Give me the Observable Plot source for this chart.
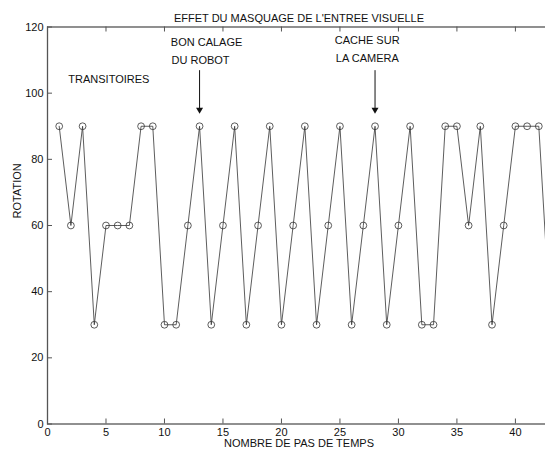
<!DOCTYPE html>
<html><head><meta charset="utf-8">
<script src="https://cdn.jsdelivr.net/npm/d3@7"></script>
<script src="https://cdn.jsdelivr.net/npm/@observablehq/plot@0.6"></script>
<style>
html,body{margin:0;padding:0;overflow:hidden;background:#fff;}
#chart svg{max-width:none !important;display:block;}
</style></head><body><div id="chart"></div>
<script>
// Data
const steps = [1,2,3,4,5,6,7,8,9,10,11,12,13,14,15,16,17,18,19,20,21,22,23,24,25,26,27,28,29,30,31,32,33,34,35,36,37,38,39,40,41,42,43];
const rotation = [90,60,90,30,60,60,60,90,90,30,30,60,90,30,60,90,30,60,90,30,60,90,30,60,90,30,60,90,30,60,90,30,30,90,90,60,90,30,60,90,90,90,30];
const xTicks = [0,5,10,15,20,25,30,35,40];
const yTicks = [0,20,40,60,80,100,120];
const title = "EFFET DU MASQUAGE DE L'ENTREE VISUELLE";
const xLabel = "NOMBRE DE PAS DE TEMPS";
const yLabel = "ROTATION";
const noteText = ["TRANSITOIRES", "BON CALAGE", "DU ROBOT", "CACHE SUR", "LA CAMERA"];
const noteX = [1.78, 10.54, 10.6, 24.56, 24.65];
const noteY = [104.1, 115.4, 110.0, 115.9, 110.5];
const arrowX = [13, 28];
const arrowTop = [106.8, 106.8];
const arrowTip = [95.0, 95.0];

const data = steps.map((s, i) => ({step: s, rot: rotation[i]}));
const notes = noteText.map((t, i) => ({t, x: noteX[i], y: noteY[i]}));
const arrows = arrowX.map((x, i) => ({x, y1: arrowTop[i], y2: arrowTip[i]}));

const W = 552, H = 453;
const mL = 47, mR = 2, mT = 26.5, mB = 29.5;
const fw = W - mL - mR, fh = H - mT - mB;
const tick = 5;

const chart = Plot.plot({
  width: W, height: H,
  marginLeft: mL, marginRight: mR, marginTop: mT, marginBottom: mB,
  style: {fontFamily: "'Liberation Sans', Arial, Helvetica, sans-serif", fontSize: "11px", color: "#111", background: "white", overflow: "visible", maxWidth: "none"},
  x: {domain: [0, 43]},
  y: {domain: [0, 120]},
  marks: [
    Plot.axisX({ticks: xTicks, tickSize: 0, tickPadding: 4, label: null, fontSize: 11}),
    Plot.axisY({ticks: yTicks, tickSize: 0, tickPadding: 4, label: null, fontSize: 11}),
    // inward ticks on all sides
    Plot.ruleX(xTicks, {x: d => d, insetTop: fh - tick, stroke: "#555"}),
    Plot.ruleX(xTicks, {x: d => d, insetBottom: fh - tick, stroke: "#555"}),
    Plot.ruleY(yTicks, {y: d => d, insetRight: fw - tick, stroke: "#555"}),
    Plot.ruleY(yTicks, {y: d => d, insetLeft: fw - tick, stroke: "#555"}),
    Plot.frame({stroke: "#555", strokeWidth: 1.3}),
    Plot.line(data, {x: "step", y: "rot", stroke: "#333", strokeWidth: 0.8}),
    Plot.dot(data, {x: "step", y: "rot", r: 3.4, stroke: "#333", strokeWidth: 0.8, fill: "none"}),
    Plot.text(notes, {x: "x", y: "y", text: "t", textAnchor: "start", fontSize: 11, fill: "#111"}),
    Plot.ruleX(arrows, {x: "x", y1: "y1", y2: "y2", stroke: "#111", strokeWidth: 1}),
    Plot.dot(arrows, {x: "x", y: "y2", symbol: "triangle", rotate: 180, r: 2.6, fill: "#111", stroke: "none"}),
    Plot.text([title], {frameAnchor: "top", dy: -13, fontSize: 11, fill: "#111"}),
    Plot.text([xLabel], {frameAnchor: "bottom", dy: 23, fontSize: 11, fill: "#111"}),
    Plot.text([yLabel], {frameAnchor: "left", dx: -30, dy: -7, rotate: -90, fontSize: 11, fill: "#111"})
  ]
});
document.getElementById("chart").appendChild(chart);
</script></body></html>
